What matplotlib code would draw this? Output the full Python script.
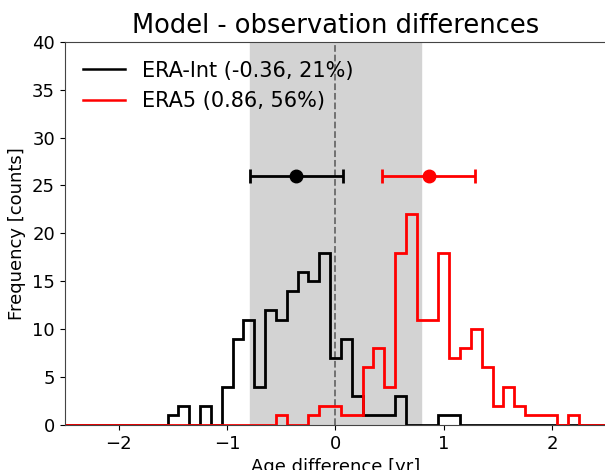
import matplotlib
matplotlib.use("Agg")
import matplotlib.pyplot as plt
from matplotlib.lines import Line2D
import numpy as np

# histogram counts, bins of 0.1 yr (centres listed below)
era_int_start = -1.5
era_int_counts = [1, 2, 0, 2, 0, 4, 9, 11, 4, 12, 11, 14, 16, 15, 18, 7, 9, 3, 1, 1, 1, 3, 0, 0, 0, 1, 1]
era5_start = -0.5
era5_counts = [1, 0, 0, 1, 2, 2, 1, 1, 6, 8, 4, 18, 22, 11, 11, 18, 7, 8, 10, 6, 2, 4, 2, 1, 1, 1, 0, 1]

# mean and spread of each set
era_int_mean, era_int_err = -0.36, 0.43
era5_mean, era5_err = 0.86, 0.43
obs_unc = 0.79

labels = ['ERA-Int (-0.36, 21%)', 'ERA5 (0.86, 56%)']

edges = np.round(np.arange(-2.55, 2.56, 0.1), 2)
centres = np.round(edges[:-1] + 0.05, 2)


def full_counts(start, counts):
    out = np.zeros(len(centres))
    i0 = int(np.argmin(np.abs(centres - start)))
    out[i0:i0 + len(counts)] = counts
    return out


fig = plt.figure(figsize=(6.05, 4.7), dpi=100)
ax = fig.add_axes([0.107, 0.096, 0.895, 0.815])

ax.axvspan(-obs_unc, obs_unc, color='lightgray', zorder=0)
ax.axvline(0, color='dimgray', ls='--', lw=1.3, zorder=1)

ax.hist(centres, bins=edges, weights=full_counts(era_int_start, era_int_counts),
        histtype='step', color='k', lw=2)
ax.hist(centres, bins=edges, weights=full_counts(era5_start, era5_counts),
        histtype='step', color='r', lw=2)

ax.errorbar([era_int_mean], [26], xerr=[era_int_err], fmt='o', color='k',
            ms=9, capsize=5, elinewidth=2, capthick=2)
ax.errorbar([era5_mean], [26], xerr=[era5_err], fmt='o', color='r',
            ms=9, capsize=5, elinewidth=2, capthick=2)

ax.set_xlim(-2.5, 2.5)
ax.set_ylim(0, 40)
ax.set_yticks(range(0, 41, 5))
ax.tick_params(labelsize=13)
for s in ax.spines.values():
    s.set_color('#444444')
ax.set_xlabel('Age difference [yr]', fontsize=13)
ax.set_ylabel('Frequency [counts]', fontsize=13)
ax.set_title('Model - observation differences', fontsize=18.5)

handles = [Line2D([], [], color='k', lw=1.8), Line2D([], [], color='r', lw=1.8)]
ax.legend(handles, labels, loc='upper left', frameon=False, fontsize=15)

fig.savefig('out.png', dpi=100)
